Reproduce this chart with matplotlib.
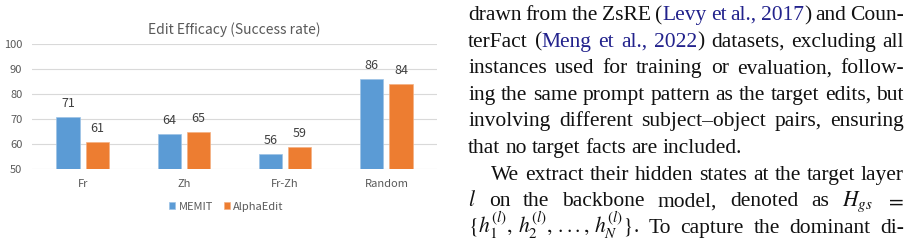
import numpy as np
import matplotlib
matplotlib.use('Agg')
import matplotlib.pyplot as plt
from matplotlib import font_manager

categories = ['Fr', 'Zh', 'Fr-Zh', 'Random']
memit = [71, 64, 56, 86]
alphaedit = [61, 65, 59, 84]
series_names = ['MEMIT', 'AlphaEdit']
yticks = [50, 60, 70, 80, 90, 100]

# paper text next to the figure; [ ] marks citation spans
paragraph_lines = [
    ('drawn from the ZsRE ([Levy et al., 2017]) and Coun-', True, False),
    ('terFact ([Meng et al., 2022]) datasets, excluding all', True, False),
    ('instances used for training or evaluation, follow-', True, False),
    ('ing the same prompt pattern as the target edits, but', True, False),
    ('involving different subject\u2013object pairs, ensuring', True, False),
    ('that no target facts are included.', False, False),
    ('We extract their hidden states at the target layer', True, True),
    ('$l$ on the backbone model, denoted as $H_{gs}$ $=$', True, False),
    (r'$\{h_1^{(l)},\,h_2^{(l)},\,...,\,h_N^{(l)}\}$. To capture the dominant di-', True, False),
]

W, H = 914, 246
fig = plt.figure(figsize=(W / 100, H / 100), dpi=100)
plt.rcParams['mathtext.fontset'] = 'stix'

serif_path = font_manager.findfont('Liberation Serif', fallback_to_default=False)
serif = font_manager.FontProperties(fname=serif_path, size=15.5)

txt_color = '#595959'
chart_font = ['Noto Sans CJK SC', 'DejaVu Sans']

ax = fig.add_axes([32 / W, 1 - 169 / H, 405 / W, 125 / H])
x = np.arange(len(categories))
width = 0.23
off = 0.145
bars1 = ax.bar(x - off, memit, width, color='#5b9bd5', edgecolor='#9dc3e6', linewidth=0.5, zorder=3)
bars2 = ax.bar(x + off, alphaedit, width, color='#ed7d31', edgecolor='#f4b183', linewidth=0.5, zorder=3)

for bars in (bars1, bars2):
    for bar in bars:
        h = bar.get_height()
        ax.annotate(f'{int(h)}', (bar.get_x() + bar.get_width() / 2, h),
                    xytext=(0, 5), textcoords='offset points',
                    ha='center', va='bottom', fontsize=9, color='#404040', family=chart_font)

ax.set_xlim(-0.5, len(categories) - 0.5)
ax.set_ylim(50, 100)
ax.set_yticks(yticks)
ax.set_xticks(x)
ax.set_xticklabels(categories)
ax.grid(True, axis='y', color='#d9d9d9', linewidth=0.8, zorder=0)
for s in ax.spines.values():
    s.set_visible(False)
ax.tick_params(length=0, labelsize=8, labelcolor=txt_color, pad=7)
for lab in ax.get_xticklabels() + ax.get_yticklabels():
    lab.set_family(chart_font)
ax.set_title('Edit Efficacy (Success rate)', fontsize=10, color=txt_color, pad=7, family=chart_font)

leg = ax.legend([bars1, bars2], series_names, loc='upper center', bbox_to_anchor=(0.48, -0.18),
                ncol=2, frameon=False, handlelength=0.55, handleheight=0.55,
                handletextpad=0.3, columnspacing=1.0, prop={'family': chart_font, 'size': 8})
for t in leg.get_texts():
    t.set_color(txt_color)

# justified paper text
renderer = fig.canvas.get_renderer()
left, right = 468, 904
indent = 23
line_gap = 26.6
base0 = 20
black = '#111111'
cite = '#22228c'


def split_words(line, state):
    words = []
    for w in line.split(' '):
        pieces = []
        cur = ''
        for ch in w:
            if ch == '[':
                if cur:
                    pieces.append((cur, cite if state else black))
                cur = ''
                state = True
            elif ch == ']':
                if cur:
                    pieces.append((cur, cite if state else black))
                cur = ''
                state = False
            else:
                cur += ch
        if cur:
            pieces.append((cur, cite if state else black))
        words.append(pieces)
    return words, state


state = False
for i, (line, justify, ind) in enumerate(paragraph_lines):
    words, state = split_words(line, state)
    y = base0 + i * line_gap
    x0 = left + (indent if ind else 0)
    artists = []
    widths = []
    for pieces in words:
        wa = []
        wsum = 0
        for s, c in pieces:
            t = fig.text(0, 0, s, fontproperties=serif, color=c, va='baseline')
            bb = t.get_window_extent(renderer)
            wa.append((t, bb.width))
            wsum += bb.width
        artists.append(wa)
        widths.append(wsum)
    total = sum(widths)
    if justify and len(words) > 1:
        gap = (right - x0 - total) / (len(words) - 1)
    else:
        gap = 5.0
    cx = x0
    for wa, ww in zip(artists, widths):
        px = cx
        for t, tw in wa:
            t.set_position((px / W, 1 - y / H))
            px += tw
        cx += ww + gap

fig.savefig('out.png', dpi=100)
